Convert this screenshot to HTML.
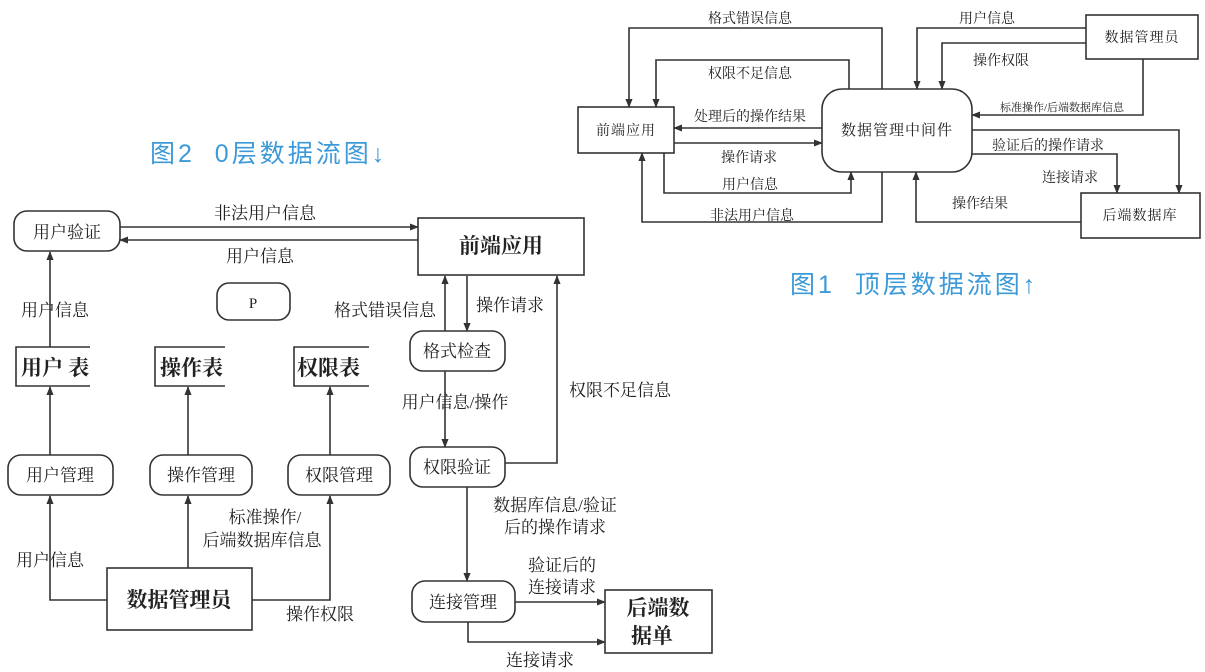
<!DOCTYPE html>
<html><head><meta charset="utf-8"><style>
html,body{margin:0;padding:0;background:#fff;}
svg{display:block;}
text{font-family:"Liberation Serif","Noto Serif CJK SC","Noto Sans CJK SC",serif;fill:#222;}
.b{font-family:"Liberation Sans","Noto Sans CJK SC",sans-serif;}
</style></head><body>
<svg width="1205" height="672" viewBox="0 0 1205 672" xmlns="http://www.w3.org/2000/svg">
<defs>
<marker id="a" viewBox="0 0 10 10" refX="9" refY="5" markerWidth="9" markerHeight="9" orient="auto" markerUnits="userSpaceOnUse"><path d="M0,1 L10,5 L0,9 z" fill="#333"/></marker>
</defs>
<g fill="none" stroke="#333" stroke-width="1.6">
<rect x="14" y="211" width="106" height="40" rx="13"/>
<rect x="418" y="218" width="166" height="57"/>
<rect x="217" y="283" width="73" height="37" rx="12"/>
<path d="M90,347 H16 V386 H90"/>
<path d="M225,347 H155 V386 H225"/>
<path d="M369,347 H294 V386 H369"/>
<rect x="8" y="455" width="105" height="40" rx="13"/>
<rect x="150" y="455" width="102" height="40" rx="13"/>
<rect x="288" y="455" width="102" height="40" rx="13"/>
<rect x="107" y="568" width="145" height="62"/>
<rect x="410" y="331" width="95" height="40" rx="13"/>
<rect x="410" y="447" width="95" height="40" rx="13"/>
<rect x="412" y="581" width="103" height="41" rx="13"/>
<rect x="605" y="590" width="107" height="63"/>
<path d="M120,227 H418" marker-end="url(#a)"/>
<path d="M418,240 H120" marker-end="url(#a)"/>
<path d="M50,347 V252" marker-end="url(#a)"/>
<path d="M50,455 V387" marker-end="url(#a)"/>
<path d="M188,455 V387" marker-end="url(#a)"/>
<path d="M330,455 V387" marker-end="url(#a)"/>
<path d="M107,600 H50 V496" marker-end="url(#a)"/>
<path d="M188,568 V496" marker-end="url(#a)"/>
<path d="M252,600 H330 V496" marker-end="url(#a)"/>
<path d="M445,331 V276" marker-end="url(#a)"/>
<path d="M467,276 V331" marker-end="url(#a)"/>
<path d="M445,371 V447" marker-end="url(#a)"/>
<path d="M505,463 H557 V276" marker-end="url(#a)"/>
<path d="M467,487 V581" marker-end="url(#a)"/>
<path d="M515,602 H605" marker-end="url(#a)"/>
<path d="M468,622 V642 H605" marker-end="url(#a)"/>
<rect x="578" y="107" width="96" height="46"/>
<rect x="822" y="89" width="150" height="83" rx="20"/>
<rect x="1086" y="15" width="112" height="44"/>
<rect x="1081" y="193" width="119" height="45"/>
<path d="M882,89 V28 H629 V107" marker-end="url(#a)"/>
<path d="M849,89 V60 H656 V107" marker-end="url(#a)"/>
<path d="M822,128 H674" marker-end="url(#a)"/>
<path d="M674,143 H822" marker-end="url(#a)"/>
<path d="M664,153 V193 H851 V172" marker-end="url(#a)"/>
<path d="M882,172 V222 H642 V153" marker-end="url(#a)"/>
<path d="M1086,28 H917 V89" marker-end="url(#a)"/>
<path d="M1086,43 H942 V89" marker-end="url(#a)"/>
<path d="M1143,59 V115 H972" marker-end="url(#a)"/>
<path d="M972,130 H1179 V193" marker-end="url(#a)"/>
<path d="M972,154 H1117 V193" marker-end="url(#a)"/>
<path d="M1081,222 H916 V172" marker-end="url(#a)"/>
</g>
<g font-size="17">
<text x="67" y="238" text-anchor="middle">用户验证</text>
<text x="265" y="219" text-anchor="middle">非法用户信息</text>
<text x="260" y="262" text-anchor="middle">用户信息</text>
<text x="501" y="253" text-anchor="middle" font-size="21" font-weight="bold">前端应用</text>
<text x="253" y="308" text-anchor="middle" font-size="15">P</text>
<text x="55" y="316" text-anchor="middle">用户信息</text>
<text x="21" y="375" font-size="21" font-weight="bold">用户 表</text>
<text x="160" y="375" font-size="21" font-weight="bold">操作表</text>
<text x="297" y="375" font-size="21" font-weight="bold">权限表</text>
<text x="60" y="481" text-anchor="middle">用户管理</text>
<text x="201" y="481" text-anchor="middle">操作管理</text>
<text x="339" y="481" text-anchor="middle">权限管理</text>
<text x="179" y="607" text-anchor="middle" font-size="21" font-weight="bold">数据管理员</text>
<text x="50" y="566" text-anchor="middle">用户信息</text>
<text x="265" y="523" text-anchor="middle">标准操作/</text>
<text x="262" y="546" text-anchor="middle">后端数据库信息</text>
<text x="320" y="620" text-anchor="middle">操作权限</text>
<text x="385" y="316" text-anchor="middle">格式错误信息</text>
<text x="510" y="311" text-anchor="middle">操作请求</text>
<text x="457" y="357" text-anchor="middle">格式检查</text>
<text x="455" y="408" text-anchor="middle">用户信息/操作</text>
<text x="620" y="396" text-anchor="middle">权限不足信息</text>
<text x="457" y="473" text-anchor="middle">权限验证</text>
<text x="555" y="511" text-anchor="middle">数据库信息/验证</text>
<text x="555" y="533" text-anchor="middle">后的操作请求</text>
<text x="562" y="571" text-anchor="middle">验证后的</text>
<text x="562" y="593" text-anchor="middle">连接请求</text>
<text x="463" y="608" text-anchor="middle">连接管理</text>
<text x="658" y="615" text-anchor="middle" font-size="21" font-weight="bold">后端数</text>
<text x="652" y="643" text-anchor="middle" font-size="21" font-weight="bold">据单</text>
<text x="540" y="666" text-anchor="middle">连接请求</text>
</g>
<text class="b" x="150" y="162" font-size="25" letter-spacing="3" style="fill:#3d9ad8" xml:space="preserve">图2  0层数据流图↓</text>
<text class="b" x="790" y="293" font-size="25" letter-spacing="3" style="fill:#3d9ad8" xml:space="preserve">图1  顶层数据流图↑</text>
<g font-size="14">
<text x="750" y="23" text-anchor="middle">格式错误信息</text>
<text x="750" y="78" text-anchor="middle">权限不足信息</text>
<text x="750" y="121" text-anchor="middle">处理后的操作结果</text>
<text x="749" y="162" text-anchor="middle">操作请求</text>
<text x="750" y="189" text-anchor="middle">用户信息</text>
<text x="752" y="220" text-anchor="middle">非法用户信息</text>
<text x="626" y="135" text-anchor="middle" letter-spacing="1">前端应用</text>
<text x="897" y="135" text-anchor="middle" font-size="15" letter-spacing="1">数据管理中间件</text>
<text x="1142" y="42" text-anchor="middle" letter-spacing="1">数据管理员</text>
<text x="1140" y="220" text-anchor="middle" letter-spacing="1">后端数据库</text>
<text x="987" y="23" text-anchor="middle">用户信息</text>
<text x="1001" y="65" text-anchor="middle">操作权限</text>
<text x="1062" y="111" text-anchor="middle" font-size="11">标准操作/后端数据库信息</text>
<text x="1048" y="150" text-anchor="middle">验证后的操作请求</text>
<text x="1070" y="182" text-anchor="middle">连接请求</text>
<text x="980" y="208" text-anchor="middle">操作结果</text>
</g>
</svg>
</body></html>
